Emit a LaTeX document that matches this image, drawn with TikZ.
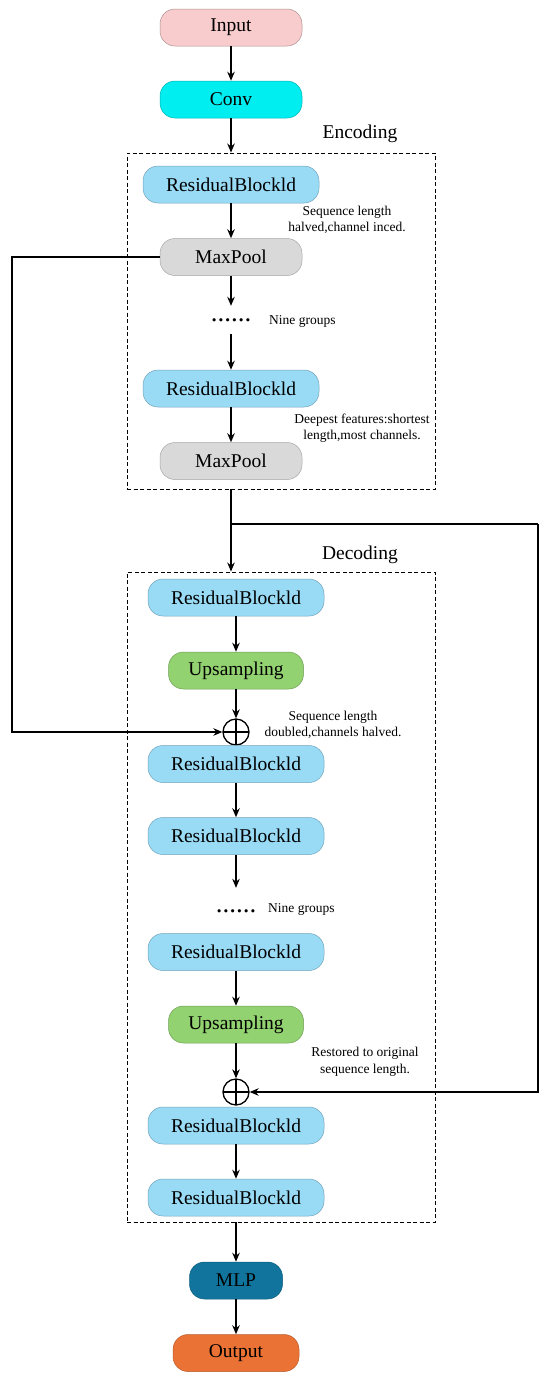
\documentclass[tikz,border=0pt]{standalone}
\usepackage{fontspec}
\setmainfont{Liberation Serif}
\usetikzlibrary{positioning,calc,arrows.meta}
\definecolor{inputPink}{RGB}{248,204,204}
\definecolor{convCyan}{RGB}{0,238,240}
\definecolor{resBlue}{RGB}{153,218,245}
\definecolor{poolGray}{RGB}{217,217,217}
\definecolor{upGreen}{RGB}{146,210,112}
\definecolor{mlpTeal}{RGB}{16,116,156}
\definecolor{outOrange}{RGB}{233,114,52}

\begin{document}
\begin{tikzpicture}[x=1pt,y=-1pt, every node/.style={inner sep=0pt}]
  \def\encx{231}
  \def\decx{236}

  \tikzset{
    block/.style={rounded corners=15pt, line width=0.5pt, minimum height=37pt,
      font=\fontsize{19.5}{22}\selectfont},
    resblock/.style={block, fill=resBlue, draw=resBlue!75!black, minimum width=176pt},
    poolblock/.style={block, fill=poolGray, draw=black!35, minimum width=142pt},
    upblock/.style={block, fill=upGreen, draw=upGreen!75!black, minimum width=135pt},
    groupbox/.style={draw, dashed, dash pattern=on 4pt off 2.5pt, line width=0.9pt},
    boxlab/.style={font=\fontsize{19.5}{22}\selectfont},
    note/.style={font=\fontsize{13.5}{16.5}\selectfont, align=center},
    dots/.style={font=\fontsize{27}{27}\selectfont},
    sumnode/.style={circle, draw, line width=1.3pt, minimum size=26pt,
      path picture={\draw[line width=1.3pt]
        (path picture bounding box.north) -- (path picture bounding box.south)
        (path picture bounding box.west) -- (path picture bounding box.east);}},
    flow/.style={-{Stealth[length=9pt,width=7.5pt]}, line width=1.4pt},
    wire/.style={line width=1.4pt}
  }

  \path[use as bounding box] (0,0) rectangle (550,1382);

  % group boxes
  \node[groupbox, minimum width=308pt, minimum height=336pt] (enc) at (281,321) {};
  \node[groupbox, minimum width=308pt, minimum height=650pt] (dec) at (281,897) {};
  \node[boxlab] (enclab) at (360,134) {Encoding};
  \node[boxlab] (declab) at (360,555) {Decoding};

  % stem
  \node[block, fill=inputPink, draw=inputPink!70!black, minimum width=142pt] (inp) at (\encx,27.5) {Input};
  \node[block, fill=convCyan, draw=convCyan!75!black, minimum width=142pt] (conv) at (\encx,99.5) {Conv};

  % encoder
  \node[resblock] (rbA) at (\encx,184.5) {ResidualBlockld};
  \node[poolblock] (mpA) at (\encx,257) {MaxPool};
  \node[dots, minimum height=28pt] (dotsA) at (\encx,320) {......};
  \node[resblock] (rbB) at (\encx,388.5) {ResidualBlockld};
  \node[poolblock] (mpB) at (\encx,461) {MaxPool};

  \node[note] (nA) at (347,220) {Sequence length\\halved,channel inced.};
  \node[note, anchor=west] (gA) at (269,321) {Nine groups};
  \node[note] (nB) at (362,428) {Deepest features:shortest\\length,most channels.};

  % decoder
  \node[resblock] (rbC) at (\decx,597.5) {ResidualBlockld};
  \node[upblock] (upA) at (\decx,670.5) {Upsampling};
  \node[sumnode] (sumA) at (\decx,732) {};
  \node[resblock] (rbD) at (\decx,764) {ResidualBlockld};
  \node[resblock] (rbE) at (\decx,836) {ResidualBlockld};
  \node[dots, minimum height=46pt] (dotsB) at (\decx,911) {......};
  \node[resblock] (rbF) at (\decx,952) {ResidualBlockld};
  \node[upblock] (upB) at (\decx,1024.5) {Upsampling};
  \node[sumnode] (sumB) at (\decx,1092) {};
  \node[resblock] (rbG) at (\decx,1125.5) {ResidualBlockld};
  \node[resblock] (rbH) at (\decx,1197.5) {ResidualBlockld};

  \node[note] (nC) at (333,725) {Sequence length\\doubled,channels halved.};
  \node[note, anchor=west] (gB) at (268,909) {Nine groups};
  \node[note] (nD) at (365,1062) {Restored to original\\sequence length.};

  % head
  \node[block, fill=mlpTeal, draw=mlpTeal!80!black, minimum width=93pt] (mlp) at (\decx,1280.5) {MLP};
  \node[block, fill=outOrange, draw=outOrange!80!black, minimum width=126pt] (outp) at (\decx,1353) {Output};

  % main flow
  \draw[flow] (inp) -- (conv);
  \draw[flow] (conv) -- (conv |- enc.north);
  \draw[flow] (rbA) -- (mpA);
  \draw[flow] (mpA) -- (dotsA);
  \draw[flow] (dotsA) -- (rbB);
  \draw[flow] (rbB) -- (mpB);
  \draw[flow] (enc.south -| mpB) -- (dec.north -| mpB);
  \draw[flow] (rbC) -- (upA);
  \draw[flow] (upA) -- (sumA);
  \draw[flow] (rbD) -- (rbE);
  \draw[flow] (rbE) -- (dotsB);
  \draw[flow] (rbF) -- (upB);
  \draw[flow] (upB) -- (sumB);
  \draw[flow] (rbG) -- (rbH);
  \draw[flow] (dec.south -| mlp) -- (mlp);
  \draw[flow] (mlp) -- (outp);

  % skip connections
  \coordinate (lft) at (12,257);
  \draw[flow] (mpA.west) -- (lft) |- (sumA.west);
  \coordinate (brk) at (\encx,524);
  \coordinate (rgt) at (538,524);
  \draw[wire] (brk) -- (rgt);
  \draw[flow] (rgt) |- (sumB.east);

\end{tikzpicture}
\end{document}
